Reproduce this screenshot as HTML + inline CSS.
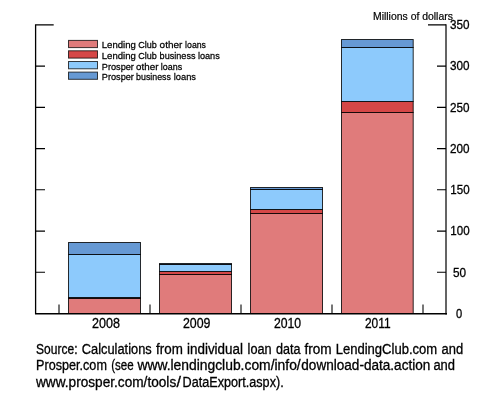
<!DOCTYPE html>
<html><head><meta charset="utf-8">
<style>
html,body{margin:0;padding:0;background:#fff;width:497px;height:411px;overflow:hidden}
svg{display:block;will-change:transform}
text{font-family:"Liberation Sans",sans-serif;fill:#000;stroke:#000}
</style></head>
<body>
<svg width="497" height="411" viewBox="0 0 497 411">
<!-- bars -->
<g stroke="#000" stroke-opacity="0.82" stroke-width="1">
 <!-- 2008 -->
 <rect x="68.5" y="298.5" width="72" height="15" fill="#E07B7B"/>
 <rect x="68.5" y="297.5" width="72" height="1" fill="#D54747"/>
 <rect x="68.5" y="254.5" width="72" height="43" fill="#8DCAFC"/>
 <rect x="68.5" y="242.5" width="72" height="12" fill="#6699D4"/>
 <!-- 2009 -->
 <rect x="159.5" y="274.5" width="72" height="39" fill="#E07B7B"/>
 <rect x="159.5" y="271.5" width="72" height="3" fill="#D54747"/>
 <rect x="159.5" y="264.5" width="72" height="7" fill="#8DCAFC"/>
 <rect x="159.5" y="263.5" width="72" height="1" fill="#6699D4"/>
 <!-- 2010 -->
 <rect x="250.5" y="213.5" width="72" height="100" fill="#E07B7B"/>
 <rect x="250.5" y="209.5" width="72" height="4" fill="#D54747"/>
 <rect x="250.5" y="189.5" width="72" height="20" fill="#8DCAFC"/>
 <rect x="250.5" y="187.5" width="72" height="2" fill="#6699D4"/>
 <!-- 2011 -->
 <rect x="341.5" y="112.5" width="71.7" height="201" fill="#E07B7B"/>
 <rect x="341.5" y="101.5" width="71.7" height="11" fill="#D54747"/>
 <rect x="341.5" y="47.5" width="71.7" height="54" fill="#8DCAFC"/>
 <rect x="341.5" y="39.5" width="71.7" height="8" fill="#6699D4"/>
</g>
<!-- axes -->
<g fill="none" stroke-linecap="butt">
 <path d="M446 24.2 V314.4" stroke="#646464" stroke-width="2"/>
 <path d="M35 24.9 H53.7 M35.6 24.2 V314.4 M35 313.75 H447" stroke="#000" stroke-width="1.3"/>
 <path d="M35 66.1 H45 M35 107.4 H45 M35 148.6 H45 M35 189.8 H45 M35 231.1 H45 M35 272.3 H45" stroke="#000" stroke-width="1.1"/>
 <path d="M428 24.9 H446 M437 66.1 H446 M437 107.4 H446 M437 148.6 H446 M437 189.8 H446 M437 231.1 H446 M437 272.3 H446" stroke="#000" stroke-width="1.1"/>
 <path d="M59 304.6 V313 M150 304.6 V313 M241 304.6 V313 M332 304.6 V313 M423 304.6 V313" stroke="#4a4a4a" stroke-width="1.5"/>
</g>
<!-- legend -->
<g stroke="#000" stroke-opacity="0.75" stroke-width="1">
 <rect x="68.5" y="40.4" width="29" height="7.2" fill="#E07B7B"/>
 <rect x="68.5" y="50.8" width="29" height="7.3" fill="#D54747"/>
 <rect x="68.5" y="61.5" width="29" height="7.3" fill="#8DCAFC"/>
 <rect x="68.5" y="72.1" width="29" height="7.2" fill="#6699D4"/>
</g>

<text x="373.00" y="20.0" font-size="10.5" stroke-width="0.2" textLength="79.90" lengthAdjust="spacingAndGlyphs">Millions of dollars</text>
<text x="101.80" y="48.1" font-size="9.9" stroke-width="0.26" textLength="34.10" lengthAdjust="spacingAndGlyphs">Lending</text>
<text x="138.30" y="48.1" font-size="9.9" stroke-width="0.26" textLength="18.50" lengthAdjust="spacingAndGlyphs">Club</text>
<text x="159.60" y="48.1" font-size="9.9" stroke-width="0.26" textLength="22.70" lengthAdjust="spacingAndGlyphs">other</text>
<text x="185.10" y="48.1" font-size="9.9" stroke-width="0.26" textLength="20.90" lengthAdjust="spacingAndGlyphs">loans</text>
<text x="101.80" y="58.8" font-size="9.9" stroke-width="0.26" textLength="34.10" lengthAdjust="spacingAndGlyphs">Lending</text>
<text x="138.30" y="58.8" font-size="9.9" stroke-width="0.26" textLength="18.50" lengthAdjust="spacingAndGlyphs">Club</text>
<text x="159.60" y="58.8" font-size="9.9" stroke-width="0.26" textLength="35.90" lengthAdjust="spacingAndGlyphs">business</text>
<text x="197.90" y="58.8" font-size="9.9" stroke-width="0.26" textLength="21.90" lengthAdjust="spacingAndGlyphs">loans</text>
<text x="101.80" y="69.5" font-size="9.9" stroke-width="0.26" textLength="32.10" lengthAdjust="spacingAndGlyphs">Prosper</text>
<text x="136.10" y="69.5" font-size="9.9" stroke-width="0.26" textLength="22.30" lengthAdjust="spacingAndGlyphs">other</text>
<text x="160.80" y="69.5" font-size="9.9" stroke-width="0.26" textLength="21.30" lengthAdjust="spacingAndGlyphs">loans</text>
<text x="101.80" y="79.9" font-size="9.9" stroke-width="0.26" textLength="32.10" lengthAdjust="spacingAndGlyphs">Prosper</text>
<text x="136.10" y="79.9" font-size="9.9" stroke-width="0.26" textLength="34.80" lengthAdjust="spacingAndGlyphs">business</text>
<text x="173.80" y="79.9" font-size="9.9" stroke-width="0.26" textLength="22.20" lengthAdjust="spacingAndGlyphs">loans</text>
<text x="450.10" y="28.8" font-size="12" stroke-width="0.3" textLength="19.50" lengthAdjust="spacingAndGlyphs">350</text>
<text x="450.10" y="70.0" font-size="12" stroke-width="0.3" textLength="19.50" lengthAdjust="spacingAndGlyphs">300</text>
<text x="450.10" y="112.0" font-size="12" stroke-width="0.3" textLength="19.50" lengthAdjust="spacingAndGlyphs">250</text>
<text x="450.10" y="153.3" font-size="12" stroke-width="0.3" textLength="19.50" lengthAdjust="spacingAndGlyphs">200</text>
<text x="450.30" y="193.8" font-size="12" stroke-width="0.3" textLength="19.30" lengthAdjust="spacingAndGlyphs">150</text>
<text x="450.30" y="235.1" font-size="12" stroke-width="0.3" textLength="19.30" lengthAdjust="spacingAndGlyphs">100</text>
<text x="453.00" y="276.8" font-size="12" stroke-width="0.3" textLength="13.10" lengthAdjust="spacingAndGlyphs">50</text>
<text x="455.90" y="317.6" font-size="12" stroke-width="0.3" textLength="6.20" lengthAdjust="spacingAndGlyphs">0</text>
<text x="92.00" y="327.7" font-size="14.2" stroke-width="0.3" textLength="27.90" lengthAdjust="spacingAndGlyphs">2008</text>
<text x="182.90" y="327.7" font-size="14.2" stroke-width="0.3" textLength="27.50" lengthAdjust="spacingAndGlyphs">2009</text>
<text x="273.90" y="327.7" font-size="14.2" stroke-width="0.3" textLength="27.20" lengthAdjust="spacingAndGlyphs">2010</text>
<text x="364.90" y="327.7" font-size="14.2" stroke-width="0.3" textLength="25.70" lengthAdjust="spacingAndGlyphs">2011</text>
<text x="36.10" y="354.0" font-size="13.8" stroke-width="0.3" textLength="41.40" lengthAdjust="spacingAndGlyphs">Source:</text>
<text x="81.80" y="354.0" font-size="13.8" stroke-width="0.3" textLength="69.90" lengthAdjust="spacingAndGlyphs">Calculations</text>
<text x="156.00" y="354.0" font-size="13.8" stroke-width="0.3" textLength="26.80" lengthAdjust="spacingAndGlyphs">from</text>
<text x="187.00" y="354.0" font-size="13.8" stroke-width="0.3" textLength="56.00" lengthAdjust="spacingAndGlyphs">individual</text>
<text x="247.60" y="354.0" font-size="13.8" stroke-width="0.3" textLength="24.00" lengthAdjust="spacingAndGlyphs">loan</text>
<text x="276.00" y="354.0" font-size="13.8" stroke-width="0.3" textLength="24.50" lengthAdjust="spacingAndGlyphs">data</text>
<text x="304.40" y="354.0" font-size="13.8" stroke-width="0.3" textLength="27.20" lengthAdjust="spacingAndGlyphs">from</text>
<text x="335.70" y="354.0" font-size="13.8" stroke-width="0.3" textLength="101.50" lengthAdjust="spacingAndGlyphs">LendingClub.com</text>
<text x="441.60" y="354.0" font-size="13.8" stroke-width="0.3" textLength="21.60" lengthAdjust="spacingAndGlyphs">and</text>
<text x="36.10" y="369.9" font-size="13.8" stroke-width="0.3" textLength="70.80" lengthAdjust="spacingAndGlyphs">Prosper.com</text>
<text x="111.20" y="369.9" font-size="13.8" stroke-width="0.3" textLength="22.50" lengthAdjust="spacingAndGlyphs">(see</text>
<text x="137.40" y="369.9" font-size="13.8" stroke-width="0.3" textLength="163.30" lengthAdjust="spacingAndGlyphs">www.lendingclub.com/info/</text>
<text x="301.30" y="369.9" font-size="13.8" stroke-width="0.3" textLength="129.00" lengthAdjust="spacingAndGlyphs">download-data.action</text>
<text x="433.40" y="369.9" font-size="13.8" stroke-width="0.3" textLength="21.60" lengthAdjust="spacingAndGlyphs">and</text>
<text x="36.00" y="386.7" font-size="13.8" stroke-width="0.3" textLength="140.20" lengthAdjust="spacingAndGlyphs">www.prosper.com/tools</text>
<text x="176.50" y="386.7" font-size="13.8" stroke-width="0.3" textLength="4.50" lengthAdjust="spacingAndGlyphs">/</text>
<text x="182.50" y="386.7" font-size="13.8" stroke-width="0.3" textLength="101.20" lengthAdjust="spacingAndGlyphs">DataExport.aspx).</text>
</svg>
</body></html>
